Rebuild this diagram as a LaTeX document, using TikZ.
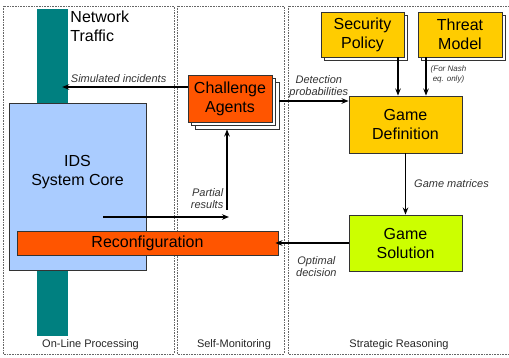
\documentclass[tikz,border=0pt]{standalone}
\usepackage{fontspec}
\setmainfont{Liberation Sans}
\usetikzlibrary{arrows.meta,shadows}

\definecolor{trafficcol}{HTML}{008080}
\definecolor{idsblue}{HTML}{AACCFF}
\definecolor{hotorange}{HTML}{FF5500}
\definecolor{gold}{HTML}{FFCC00}
\definecolor{lime}{HTML}{CCFF00}

\tikzset{
    panel/.style={draw=black!60, densely dotted, line width=0.6pt},
    block/.style={draw=black!80, line width=0.9pt, align=center, inner sep=0pt,
        font=\fontsize{16}{19}\selectfont},
    single/.style={copy shadow={shadow xshift=3pt, shadow yshift=-3pt,
        fill=white, draw=black!80, line width=0.9pt}},
    stack/.style={double copy shadow={shadow xshift=3.5pt, shadow yshift=-3.5pt,
        fill=white, draw=black!80, line width=0.9pt}},
    arr/.style={-{Stealth[length=7pt,width=5.5pt]}, line width=1.4pt},
    lbl/.style={font=\fontsize{11}{12}\selectfont\itshape, text=black!80,
        align=center, inner sep=1pt},
    tinylbl/.style={lbl, font=\fontsize{8}{10}\selectfont\itshape},
    area/.style={font=\fontsize{11}{12}\selectfont, text=black!85}
}

\begin{document}
\begin{tikzpicture}[x=1pt,y=-1pt]
    \useasboundingbox (0,0) rectangle (509,358);

    % The three areas
    \draw[panel] (3,6) rectangle (174,354);
    \draw[panel] (177,6) rectangle (284,354);
    \draw[panel] (288,6) rectangle (515,354);
    \node[area] (online) at (90.5,345) {On-Line Processing};
    \node[area] (selfmon) at (234,345) {Self-Monitoring};
    \node[area] (strategic) at (399,345) {Strategic Reasoning};

    % Network traffic bar
    \node[fill=trafficcol, minimum width=31pt, minimum height=327pt, inner sep=0pt]
        (traffic) at (52.5,172.5) {};
    \node[block, draw=none, align=left, anchor=north west] (traffictxt) at (70,10)
        {Network\\Traffic};

    % On-line processing
    \node[block, fill=idsblue, minimum width=137pt, minimum height=167pt] (ids)
        at (77.5,186.5) {};
    \node[block, draw=none] (idstxt) at (77.5,172) {IDS\\System Core};
    \node[block, fill=hotorange, minimum width=261pt, minimum height=24pt] (reconf)
        at (147.5,243) {Reconfiguration};

    % Self-monitoring
    \node[block, stack, fill=hotorange, minimum width=84pt, minimum height=47pt]
        (agents) at (230,98.5) {Challenge\\Agents};

    % Strategic reasoning
    \node[block, single, fill=gold, minimum width=83pt, minimum height=45pt]
        (policy) at (362.5,34.5) {Security\\Policy};
    \node[block, single, fill=gold, minimum width=84pt, minimum height=45pt]
        (threat) at (460,34.5) {Threat\\Model};
    \node[block, fill=gold, minimum width=113pt, minimum height=57pt]
        (gamedef) at (405.5,124.5) {Game\\Definition};
    \node[block, fill=lime, minimum width=113pt, minimum height=56pt]
        (gamesol) at (405.5,243) {Game\\Solution};

    % Connectors
    \draw[arr] ([yshift=11.5pt]agents.west) -- ([xshift=-6pt,yshift=11.5pt]agents.west -| traffic.east)
        node[lbl, above=3pt, pos=0.55] {Simulated incidents};
    \draw[arr] ([xshift=7pt,yshift=-2.5pt]agents.east) -- ([yshift=-2.5pt]agents.east -| gamedef.west)
        node[lbl, above=2pt, pos=0.57] {Detection\\probabilities};
    \coordinate (probe) at (103,217);
    \draw[arr] (probe) -- ([xshift=-1pt]probe -| agents.south);
    \draw[arr] ([xshift=-3pt,yshift=7pt]probe -| agents.south) -- ([xshift=-3pt,yshift=-7pt]agents.south)
        node[lbl, align=right, left=2pt, pos=0.14] {Partial\\results};
    \draw[arr] ([xshift=35.5pt]policy.south) -- ([xshift=35.5pt]policy.south |- gamedef.north);
    \draw[arr] ([xshift=-34pt]threat.south) -- ([xshift=-34pt]threat.south |- gamedef.north)
        node[tinylbl, right=3pt, pos=0.44] {(For Nash\\eq. only)};
    \draw[arr] (gamedef.south) -- (gamesol.north)
        node[lbl, right=7pt, midway] {Game matrices};
    \draw[arr] (gamesol.west) -- ([xshift=-3pt]reconf.east)
        node[lbl, below=12pt, pos=0.44] {Optimal\\decision};
\end{tikzpicture}
\end{document}
